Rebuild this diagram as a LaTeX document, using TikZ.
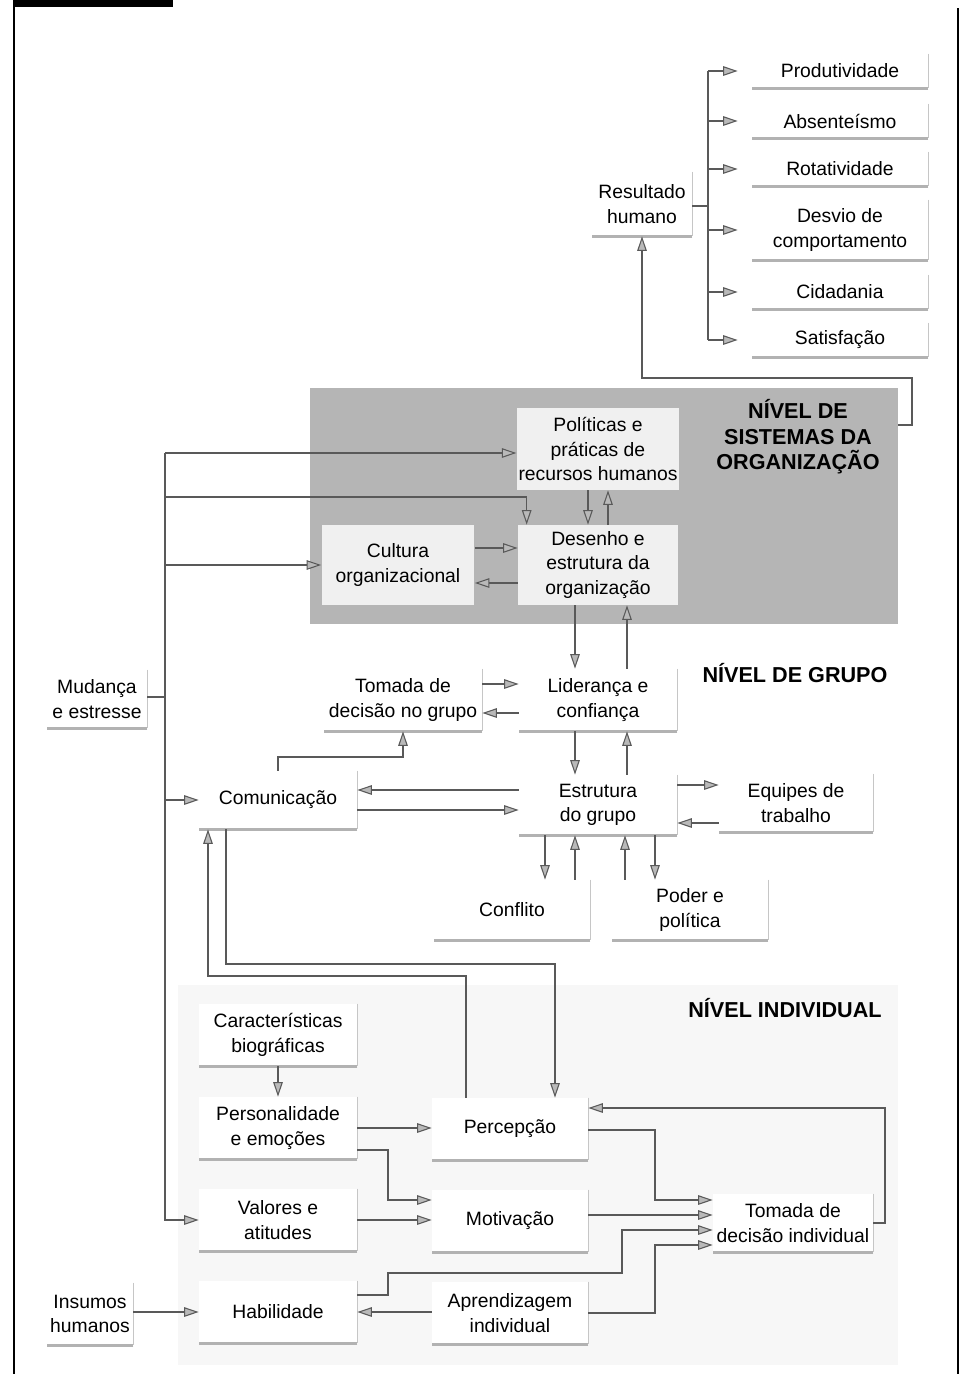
\documentclass[tikz,border=0pt]{standalone}
\usepackage{fontspec}
\setmainfont{Liberation Sans}
\usetikzlibrary{arrows.meta, positioning}

\begin{document}
\begin{tikzpicture}[
        x=0.02cm, y=-0.02cm,
        font=\fontsize{11}{14}\selectfont,
        caixa/.style={fill=white, align=center, inner sep=1pt, minimum width=3.16cm, minimum height=1.24cm},
        interna/.style={fill=gray!12, align=center, inner sep=1pt, minimum width=3.2cm, minimum height=1.6cm},
        titulo/.style={font=\fontsize{12.3}{14.5}\selectfont\bfseries, align=center},
        linha/.style={draw=gray!70!black, line width=0.6pt},
        seta/.style={linha, -{Triangle[length=2.9mm, width=1.9mm, fill=gray!55]}}
    ]
    \useasboundingbox (0,0) rectangle (966,1374);

    % Moldura
    \fill (14,0) rectangle (173,7);
    \draw[line width=1.5pt] (14,0) -- (14,1374);
    \draw[line width=1.5pt] (958,8) -- (958,1374);

    % Fundos dos niveis
    \fill[gray!6] (178,985) rectangle (898,1365);
    \node[fill=gray!58, minimum width=11.76cm, minimum height=4.74cm] (org) at (604,506) {};

    % Resultados
    \node[caixa] (res) at (642,204) [minimum width=2cm, minimum height=1.28cm] {Resultado\\humano};
    \node[caixa, minimum width=3.52cm, minimum height=0.68cm] (prod) at (840,71) {Produtividade};
    \node[caixa, minimum width=3.52cm, minimum height=0.68cm] (abs) at (840,121) {Absenteísmo};
    \node[caixa, minimum width=3.52cm, minimum height=0.68cm] (rot) at (840,169) {Rotatividade};
    \node[caixa, minimum width=3.52cm, minimum height=1.2cm] (desvio) at (840,230) {Desvio de\\comportamento};
    \node[caixa, minimum width=3.52cm, minimum height=0.68cm] (cid) at (840,292) {Cidadania};
    \node[caixa, minimum width=3.52cm, minimum height=0.68cm] (sat) at (840,340) {Satisfação};

    % Nivel de sistemas da organizacao
    \node[interna, minimum height=1.64cm] (pol) at (598,449) {Políticas e\\práticas de\\recursos humanos};
    \node[interna] (des) at (598,565) {Desenho e\\estrutura da\\organização};
    \node[interna, minimum width=3.06cm] (cul) at (398,565) {Cultura\\organizacional};
    \node[titulo] (torg) at (798,437) {NÍVEL DE\\SISTEMAS DA\\ORGANIZAÇÃO};

    % Nivel de grupo
    \node[caixa] (gdec) at (403,700) {Tomada de\\decisão no grupo};
    \node[caixa] (lid) at (598,700) {Liderança e\\confiança};
    \node[titulo] (tgrupo) at (795,673) {NÍVEL DE GRUPO};
    \node[caixa, minimum height=1.2cm] (est) at (598,805) {Estrutura\\do grupo};
    \node[caixa, minimum height=1.16cm] (com) at (278,800) {Comunicação};
    \node[caixa, minimum width=3.08cm, minimum height=1.16cm] (equ) at (796,803) {Equipes de\\trabalho};
    \node[caixa, minimum width=3.12cm, minimum height=1.2cm] (conf) at (512,910) {Conflito};
    \node[caixa, minimum width=3.12cm, minimum height=1.2cm] (poder) at (690,910) {Poder e\\política};
    \node[caixa, minimum width=2cm, minimum height=1.16cm] (mud) at (97,699) {Mudança\\e estresse};

    % Nivel individual
    \node[titulo] (tind) at (785,1008) {NÍVEL INDIVIDUAL};
    \node[caixa] (carac) at (278,1035) {Características\\biográficas};
    \node[caixa] (pers) at (278,1128) {Personalidade\\e emoções};
    \node[caixa] (val) at (278,1220) {Valores e\\atitudes};
    \node[caixa] (hab) at (278,1312) {Habilidade};
    \node[caixa, minimum width=3.12cm] (perc) at (510,1129) {Percepção};
    \node[caixa, minimum width=3.12cm] (mot) at (510,1221) {Motivação};
    \node[caixa, minimum width=3.12cm] (apr) at (510,1313) {Aprendizagem\\individual};
    \node[caixa, minimum width=3.2cm, minimum height=1.16cm] (tdi) at (793,1223) {Tomada de\\decisão individual};
    \node[caixa, minimum width=1.72cm] (ins) at (90,1314) {Insumos\\humanos};

    % Sombras das caixas
    \foreach \n in {res,prod,abs,rot,desvio,cid,sat,gdec,lid,est,com,equ,conf,poder,mud,carac,pers,val,hab,perc,mot,apr,tdi,ins} {
        \draw[gray!45, line width=0.8pt] (\n.north east) -- (\n.south east);
        \draw[gray!60, line width=1.8pt] (\n.south east) -- (\n.south west);
    }

    % Setas dos resultados
    \coordinate (ramo) at (708,206);
    \draw[linha] (res.east |- ramo) -- (ramo);
    \draw[linha] (ramo |- prod) -- (ramo |- sat);
    \foreach \n in {prod,abs,rot,desvio,cid,sat}
        \draw[seta] (ramo |- \n) -- ([xshift=-0.28cm]\n.west);
    \draw[seta] (org.east |- 0,425) -| (912,378) -| (res.south);

    % Tronco de mudanca e estresse
    \coordinate (tronco) at (165,453);
    \draw[linha] (mud.east |- 0,697) -- (tronco |- 0,697);
    \draw[seta] (tronco) -- (pol.west |- tronco);
    \draw[seta] (tronco |- 0,497) -| ([xshift=0.18cm]des.north west);
    \draw[seta] (tronco |- cul.west) -- (cul.west);
    \draw[seta] (tronco |- com.west) -- (com.west);
    \draw[seta] (tronco) |- (val.west);

    % Setas da organizacao
    \draw[seta] (pol.south -| 588,0) -- (des.north -| 588,0);
    \draw[seta] (des.north -| 608,0) -- (pol.south -| 608,0);
    \draw[seta] (cul.east |- 0,548) -- (des.west |- 0,548);
    \draw[seta] (des.west |- 0,583) -- (cul.east |- 0,583);
    \draw[seta] (des.south -| 575,0) -- (lid.north -| 575,0);
    \draw[seta] (lid.north -| 627,0) -- (des.south -| 627,0);

    % Setas do grupo
    \draw[seta] (gdec.east |- 0,684) -- (lid.west |- 0,684);
    \draw[seta] (lid.west |- 0,713) -- (gdec.east |- 0,713);
    \draw[seta] (lid.south -| 575,0) -- (est.north -| 575,0);
    \draw[seta] (est.north -| 627,0) -- (lid.south -| 627,0);
    \draw[seta] (est.west |- 0,790) -- (com.east |- 0,790);
    \draw[seta] (com.east |- 0,810) -- (est.west |- 0,810);
    \draw[seta] (com.north) |- (gdec.south |- 0,757) -- (gdec.south);
    \draw[seta] (est.east |- 0,785) -- (equ.west |- 0,785);
    \draw[seta] (equ.west |- 0,823) -- (est.east |- 0,823);
    \draw[seta] (est.south -| 545,0) -- (conf.north -| 545,0);
    \draw[seta] (conf.north -| 575,0) -- (est.south -| 575,0);
    \draw[seta] (poder.north -| 625,0) -- (est.south -| 625,0);
    \draw[seta] (est.south -| 655,0) -- (poder.north -| 655,0);

    % Entre grupo e individuo
    \draw[seta] (perc.north -| 466,0) -- (466,976) -| (com.south -| 208,0);
    \draw[seta] (com.south -| 226,0) -- (226,964) -| (perc.north -| 555,0);

    % Setas do individuo
    \draw[seta] (carac) -- (pers);
    \draw[seta] (pers.east |- 0,1128) -- (perc.west |- 0,1128);
    \draw[seta] (pers.east |- 0,1150) -- (388,1150) |- (mot.west |- 0,1200);
    \draw[seta] (val.east |- 0,1220) -- (mot.west |- 0,1220);
    \draw[seta] (ins.east |- 0,1312) -- (hab.west |- 0,1312);
    \draw[seta] (apr.west |- 0,1312) -- (hab.east |- 0,1312);
    \draw[seta] (hab.east |- 0,1295) -- (388,1295) -- (388,1273) -- (622,1273) |- (tdi.west |- 0,1230);
    \draw[seta] (apr.east |- 0,1313) -- (655,1313) |- (tdi.west |- 0,1245);
    \draw[seta] (mot.east |- 0,1215) -- (tdi.west |- 0,1215);
    \draw[seta] (perc.east |- 0,1130) -- (655,1130) |- (tdi.west |- 0,1200);
    \draw[seta] (tdi.east |- 0,1223) -- (885,1223) |- (perc.east |- 0,1108);

\end{tikzpicture}
\end{document}
